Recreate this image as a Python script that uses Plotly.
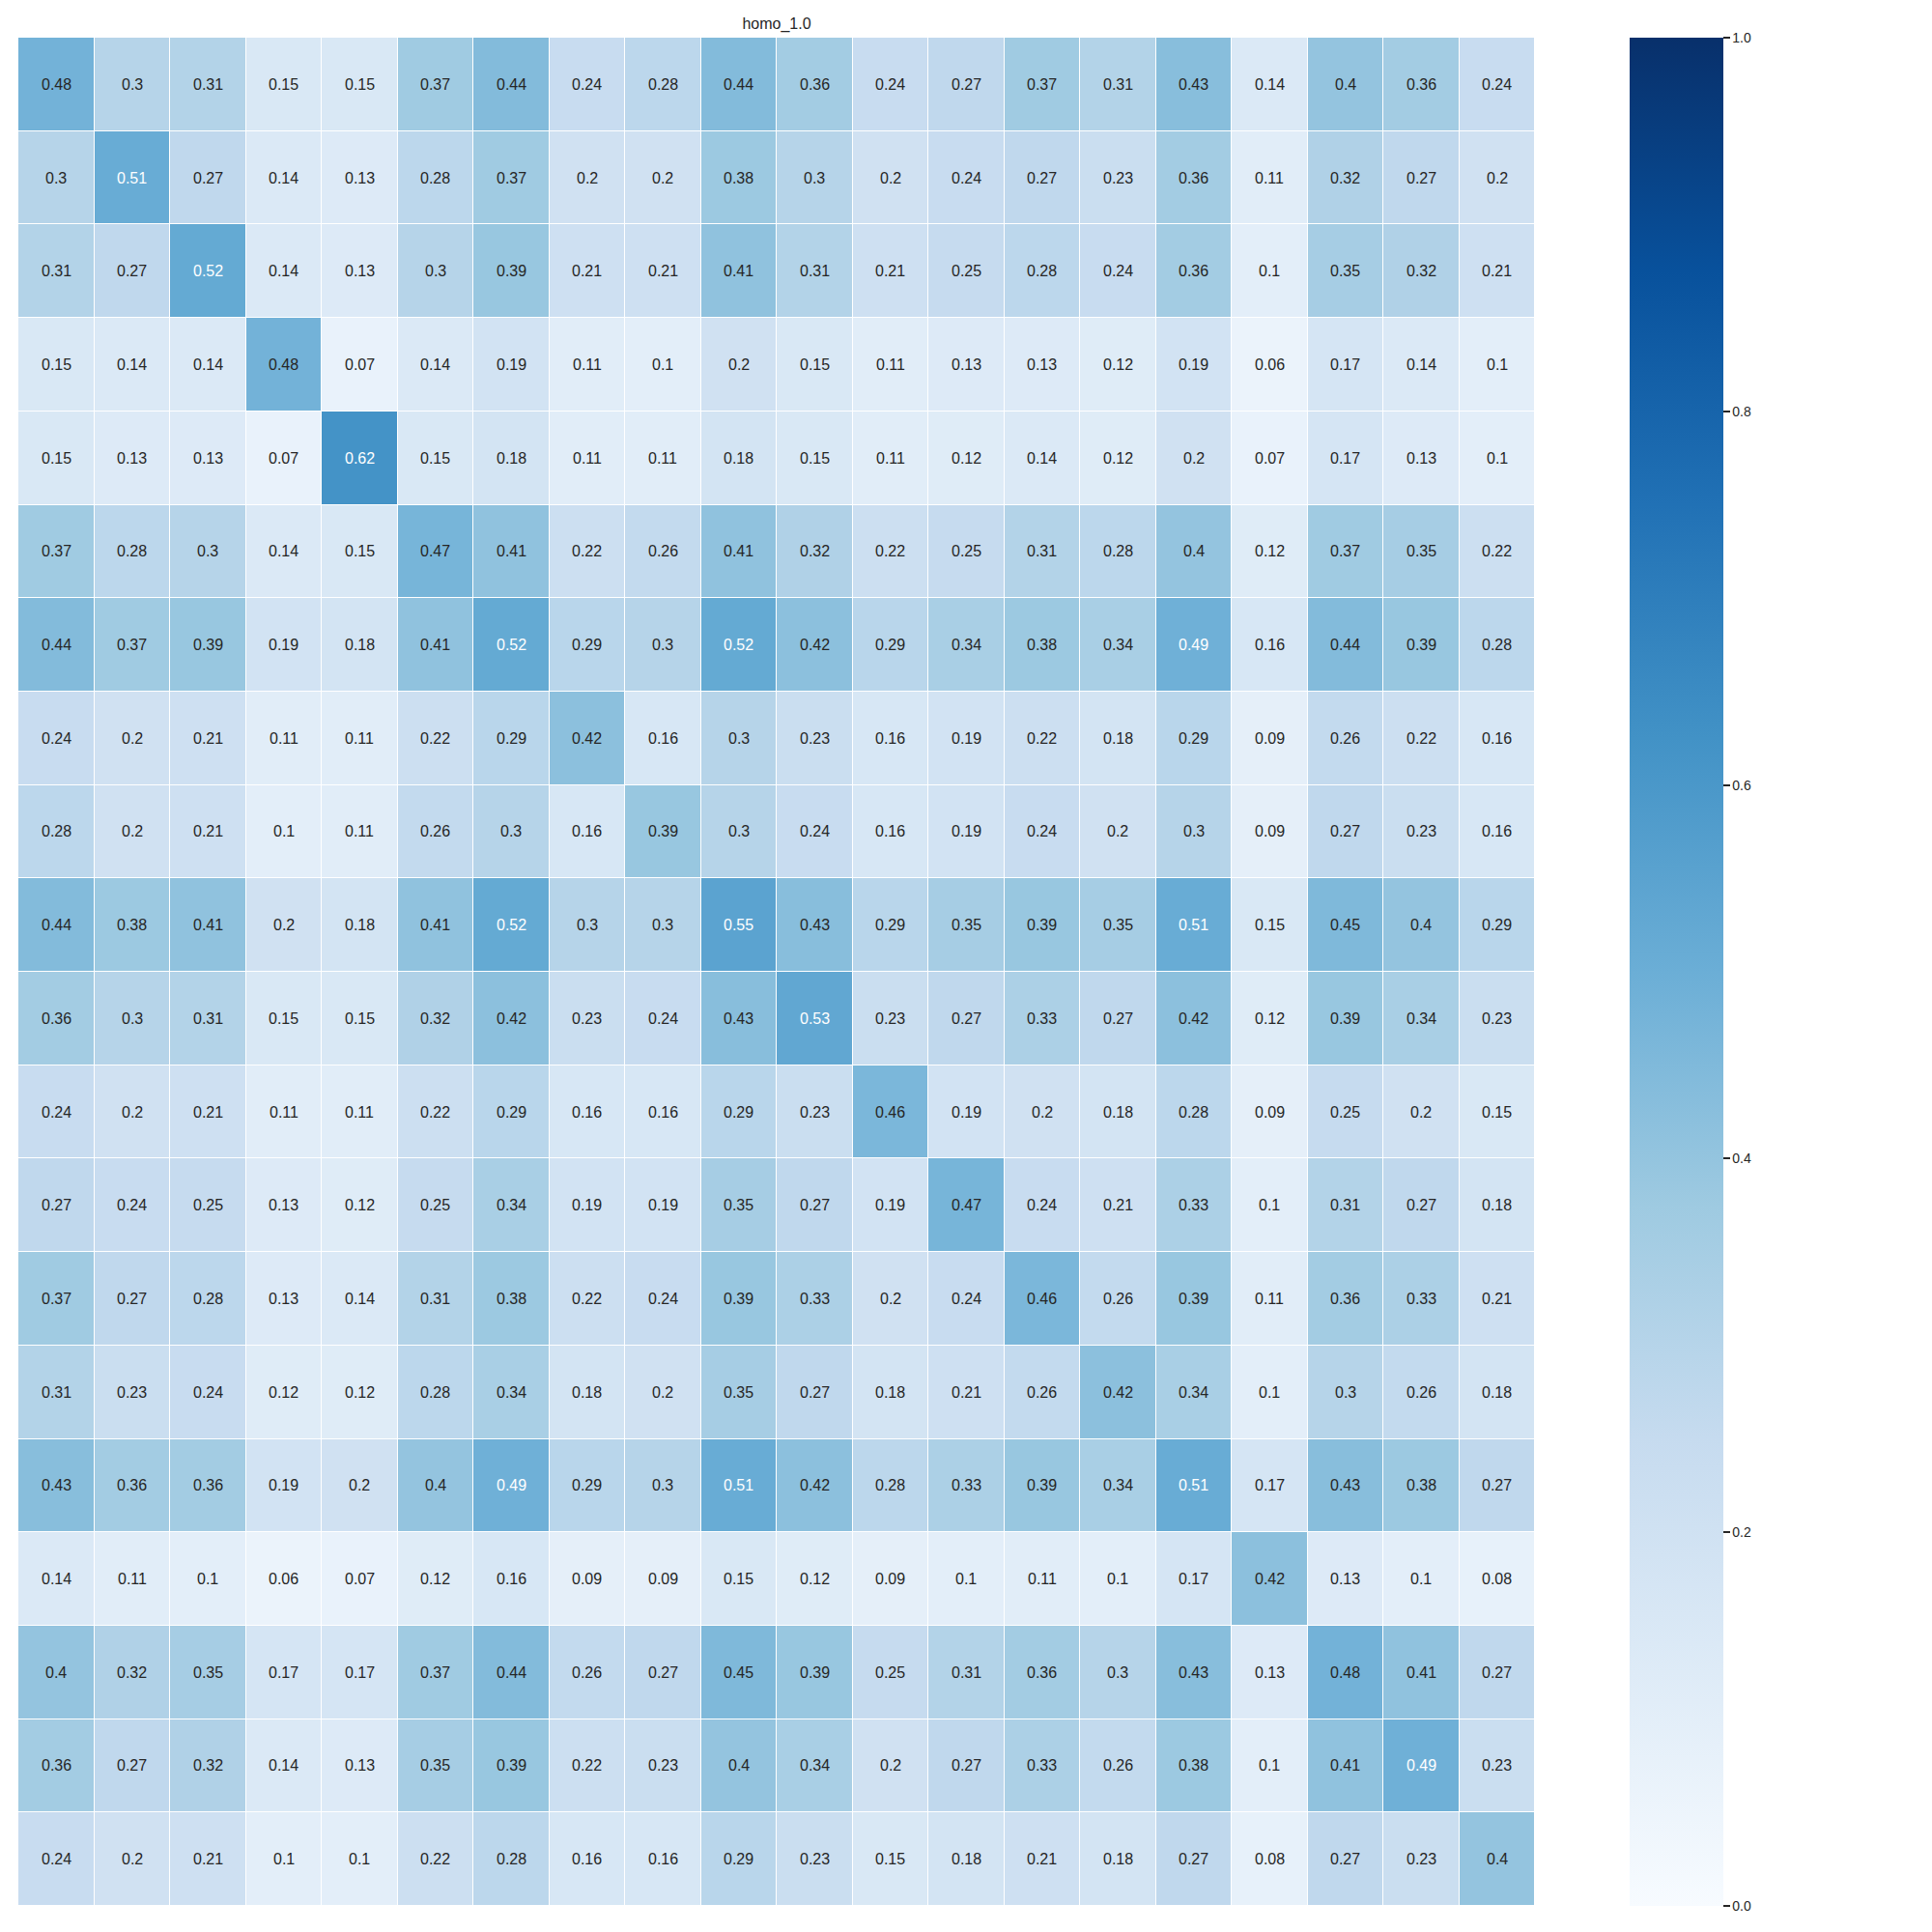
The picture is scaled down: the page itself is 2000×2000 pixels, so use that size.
import plotly.graph_objects as go

title = "homo_1.0"

# matriz 20x20
row00 = [0.48, 0.3, 0.31, 0.15, 0.15, 0.37, 0.44, 0.24, 0.28, 0.44, 0.36, 0.24, 0.27, 0.37, 0.31, 0.43, 0.14, 0.4, 0.36, 0.24]
row01 = [0.3, 0.51, 0.27, 0.14, 0.13, 0.28, 0.37, 0.2, 0.2, 0.38, 0.3, 0.2, 0.24, 0.27, 0.23, 0.36, 0.11, 0.32, 0.27, 0.2]
row02 = [0.31, 0.27, 0.52, 0.14, 0.13, 0.3, 0.39, 0.21, 0.21, 0.41, 0.31, 0.21, 0.25, 0.28, 0.24, 0.36, 0.1, 0.35, 0.32, 0.21]
row03 = [0.15, 0.14, 0.14, 0.48, 0.07, 0.14, 0.19, 0.11, 0.1, 0.2, 0.15, 0.11, 0.13, 0.13, 0.12, 0.19, 0.06, 0.17, 0.14, 0.1]
row04 = [0.15, 0.13, 0.13, 0.07, 0.62, 0.15, 0.18, 0.11, 0.11, 0.18, 0.15, 0.11, 0.12, 0.14, 0.12, 0.2, 0.07, 0.17, 0.13, 0.1]
row05 = [0.37, 0.28, 0.3, 0.14, 0.15, 0.47, 0.41, 0.22, 0.26, 0.41, 0.32, 0.22, 0.25, 0.31, 0.28, 0.4, 0.12, 0.37, 0.35, 0.22]
row06 = [0.44, 0.37, 0.39, 0.19, 0.18, 0.41, 0.52, 0.29, 0.3, 0.52, 0.42, 0.29, 0.34, 0.38, 0.34, 0.49, 0.16, 0.44, 0.39, 0.28]
row07 = [0.24, 0.2, 0.21, 0.11, 0.11, 0.22, 0.29, 0.42, 0.16, 0.3, 0.23, 0.16, 0.19, 0.22, 0.18, 0.29, 0.09, 0.26, 0.22, 0.16]
row08 = [0.28, 0.2, 0.21, 0.1, 0.11, 0.26, 0.3, 0.16, 0.39, 0.3, 0.24, 0.16, 0.19, 0.24, 0.2, 0.3, 0.09, 0.27, 0.23, 0.16]
row09 = [0.44, 0.38, 0.41, 0.2, 0.18, 0.41, 0.52, 0.3, 0.3, 0.55, 0.43, 0.29, 0.35, 0.39, 0.35, 0.51, 0.15, 0.45, 0.4, 0.29]
row10 = [0.36, 0.3, 0.31, 0.15, 0.15, 0.32, 0.42, 0.23, 0.24, 0.43, 0.53, 0.23, 0.27, 0.33, 0.27, 0.42, 0.12, 0.39, 0.34, 0.23]
row11 = [0.24, 0.2, 0.21, 0.11, 0.11, 0.22, 0.29, 0.16, 0.16, 0.29, 0.23, 0.46, 0.19, 0.2, 0.18, 0.28, 0.09, 0.25, 0.2, 0.15]
row12 = [0.27, 0.24, 0.25, 0.13, 0.12, 0.25, 0.34, 0.19, 0.19, 0.35, 0.27, 0.19, 0.47, 0.24, 0.21, 0.33, 0.1, 0.31, 0.27, 0.18]
row13 = [0.37, 0.27, 0.28, 0.13, 0.14, 0.31, 0.38, 0.22, 0.24, 0.39, 0.33, 0.2, 0.24, 0.46, 0.26, 0.39, 0.11, 0.36, 0.33, 0.21]
row14 = [0.31, 0.23, 0.24, 0.12, 0.12, 0.28, 0.34, 0.18, 0.2, 0.35, 0.27, 0.18, 0.21, 0.26, 0.42, 0.34, 0.1, 0.3, 0.26, 0.18]
row15 = [0.43, 0.36, 0.36, 0.19, 0.2, 0.4, 0.49, 0.29, 0.3, 0.51, 0.42, 0.28, 0.33, 0.39, 0.34, 0.51, 0.17, 0.43, 0.38, 0.27]
row16 = [0.14, 0.11, 0.1, 0.06, 0.07, 0.12, 0.16, 0.09, 0.09, 0.15, 0.12, 0.09, 0.1, 0.11, 0.1, 0.17, 0.42, 0.13, 0.1, 0.08]
row17 = [0.4, 0.32, 0.35, 0.17, 0.17, 0.37, 0.44, 0.26, 0.27, 0.45, 0.39, 0.25, 0.31, 0.36, 0.3, 0.43, 0.13, 0.48, 0.41, 0.27]
row18 = [0.36, 0.27, 0.32, 0.14, 0.13, 0.35, 0.39, 0.22, 0.23, 0.4, 0.34, 0.2, 0.27, 0.33, 0.26, 0.38, 0.1, 0.41, 0.49, 0.23]
row19 = [0.24, 0.2, 0.21, 0.1, 0.1, 0.22, 0.28, 0.16, 0.16, 0.29, 0.23, 0.15, 0.18, 0.21, 0.18, 0.27, 0.08, 0.27, 0.23, 0.4]

z = [row00, row01, row02, row03, row04, row05, row06, row07, row08, row09,
     row10, row11, row12, row13, row14, row15, row16, row17, row18, row19]
n = len(z)
cbar_ticks = [0.0, 0.2, 0.4, 0.6, 0.8, 1.0]

fig = go.Figure(go.Heatmap(
    z=z, x=list(range(n)), y=list(range(n)),
    colorscale="Blues", zmin=0, zmax=1,
    xgap=1, ygap=1,
    colorbar=dict(
        x=1.0624, xanchor="left", y=0.5, yanchor="middle",
        len=1, lenmode="fraction", thickness=97, outlinewidth=0,
        ypad=0, xpad=0,
        tickvals=cbar_ticks, ticktext=["%.1f" % t for t in cbar_ticks],
        ticks="outside", ticklen=7, tickwidth=1.5, tickcolor="#262626",
        tickfont=dict(family="Liberation Sans, Arial", size=14, color="#262626"),
    ),
    hoverinfo="z",
))

# anotaciones con el valor de cada celda
for i in range(n):
    for j in range(n):
        v = z[i][j]
        fig.add_annotation(
            x=j, y=i, text=f"{v:g}", showarrow=False,
            font=dict(family="Liberation Sans, Arial", size=16,
                      color="white" if v >= 0.49 else "#262626"),
        )

fig.update_xaxes(visible=False, range=[-0.5, n - 0.5])
fig.update_yaxes(visible=False, range=[n - 0.5, -0.5])
# la página añade ~8px de margen, se compensa aquí
fig.update_layout(
    width=2000, height=2000,
    margin=dict(l=11, r=419, t=31, b=35),
    paper_bgcolor="white", plot_bgcolor="white",
    title=dict(text=title, x=(11 + 1581) / 2 / 2000, xanchor="center",
               y=1 - 16 / 2000, yanchor="middle",
               font=dict(family="Liberation Sans, Arial", size=16, color="#262626")),
)

fig.write_html("out.html")
